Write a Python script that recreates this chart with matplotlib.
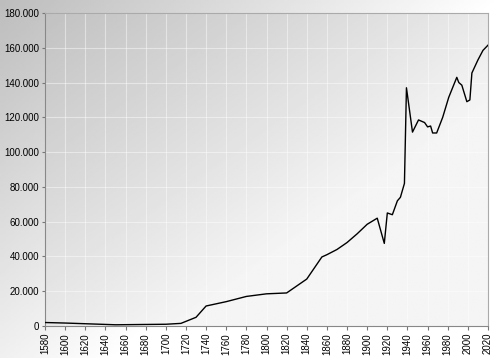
import matplotlib
matplotlib.use("Agg")
import matplotlib.pyplot as plt
import numpy as np
from matplotlib.ticker import FuncFormatter, MultipleLocator

years = [1580, 1600, 1650, 1700, 1715, 1730, 1740, 1760, 1780, 1800, 1820, 1840,
         1855, 1860, 1870, 1880, 1890, 1900, 1910, 1917, 1920, 1925, 1930, 1933,
         1937, 1939, 1945, 1951, 1957, 1960, 1963, 1965, 1969, 1975, 1981, 1989,
         1991, 1994, 1999, 2002, 2004, 2010, 2015, 2020]
population = [2000, 1700, 700, 1000, 1500, 5000, 11500, 14000, 17000, 18500, 19000, 27000,
              39700, 41000, 44000, 48000, 53000, 58500, 62000, 47500, 65000, 64000, 72000, 74000,
              82000, 137000, 111500, 118500, 117000, 114500, 115000, 111000, 111000, 120000, 131500, 143000,
              140000, 138500, 129000, 130000, 145500, 153000, 158500, 161500]

plt.rcParams['font.family'] = ['Liberation Sans', 'DejaVu Sans']

fig = plt.figure(figsize=(5, 3.58), dpi=100)

# figure background gradient
bg = fig.add_axes([0, 0, 1, 1], zorder=-10)
gx, gy = np.meshgrid(np.linspace(0, 1, 200), np.linspace(0, 1, 200))
g = 0.74 + 0.26 * np.clip((gx * 1.3 + gy) / 1.3, 0, 1)
bg.imshow(g, cmap='gray', vmin=0, vmax=1, extent=[0, 1, 0, 1], aspect='auto', origin='upper')
bg.axis('off')

ax = fig.add_axes([0.09, 0.0894, 0.886, 0.8743])
ax.set_facecolor('none')
ag = 0.76 + 0.20 * np.clip((gx + (1 - gy)) / 1.3, 0, 1)
ax.imshow(ag, cmap='gray', vmin=0, vmax=1, extent=[1580, 2020, 0, 180000],
          aspect='auto', origin='lower', zorder=0)

ax.plot(years, population, color='black', lw=1.0, zorder=3)

ax.set_xlim(1580, 2020)
ax.set_ylim(0, 180000)
ax.xaxis.set_major_locator(MultipleLocator(20))
ax.yaxis.set_major_locator(MultipleLocator(20000))
ax.yaxis.set_major_formatter(FuncFormatter(lambda v, p: f"{int(v):,}".replace(",", ".")))
ax.grid(True, color='white', alpha=0.45, lw=0.8, zorder=1)
ax.tick_params(axis='x', labelrotation=90, labelsize=7, length=3, color='#777777', pad=2)
ax.tick_params(axis='y', labelsize=7, length=2, color='#777777', pad=2)
for s in ['left', 'bottom']:
    ax.spines[s].set_color('#888888')
for s in ['top', 'right']:
    ax.spines[s].set_color('#aaaaaa')

fig.savefig('out.png', dpi=100)
